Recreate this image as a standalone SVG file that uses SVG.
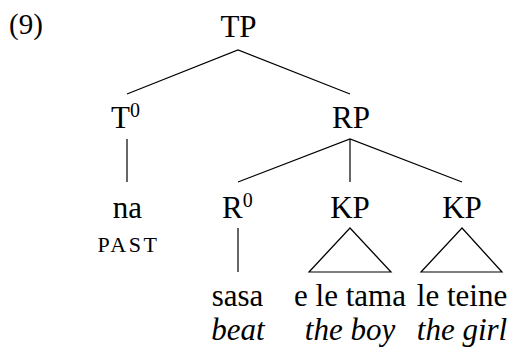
<svg xmlns="http://www.w3.org/2000/svg" width="510" height="350" viewBox="0 0 510 350" font-family="Liberation Serif, Tinos, Times New Roman, DejaVu Serif, serif">
<style>
text{font-family:'Liberation Serif','Tinos','Times New Roman','DejaVu Serif',serif;font-size:31px;fill:#000;text-anchor:middle}
.it{font-style:italic}
.sc{font-size:22px;letter-spacing:2.5px}
.sup{font-size:20px}
.e{stroke:#000;stroke-width:1.2;fill:none;stroke-linejoin:miter}
</style>
<rect width="510" height="350" fill="#fff"/>
<text x="9" y="34" style="text-anchor:start;font-size:29px">(9)</text>
<g id="TP"><text x="238.5" y="37">TP</text></g>
<g id="T0"><text x="111" y="128" style="text-anchor:start">T<tspan class="sup" dy="-11">0</tspan></text></g>
<g id="RP"><text x="351" y="128">RP</text></g>
<g id="na"><text x="127.5" y="218">na</text><text class="sc" x="128.5" y="252">PAST</text></g>
<g id="R0"><text x="222" y="218" style="text-anchor:start">R<tspan class="sup" dy="-11">0</tspan></text></g>
<g id="KP1"><text x="350" y="218">KP</text></g>
<g id="KP2"><text x="462" y="218">KP</text></g>
<g id="sasa"><text x="237.5" y="306">sasa</text><text class="it" x="238" y="340">beat</text></g>
<g id="boy"><text x="350" y="306">e le tama</text><text class="it" x="350" y="340">the boy</text></g>
<g id="girl"><text x="462" y="306">le teine</text><text class="it" x="462" y="340">the girl</text></g>
<g id="connectors" class="e">
<polyline points="127,94 238,50 350,94"/>
<line x1="127" y1="139" x2="127" y2="182"/>
<polyline points="238,182 350,139 462,182"/>
<line x1="350" y1="139" x2="350" y2="182"/>
<line x1="238" y1="228" x2="238" y2="272"/>
<polygon points="350,228 309,272 391,272"/>
<polygon points="462,228 421,272 502,272"/>
</g>
</svg>
